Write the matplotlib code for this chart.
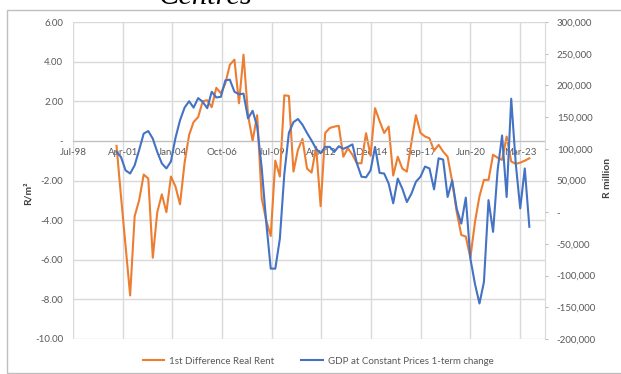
import numpy as np
import matplotlib
matplotlib.use("Agg")
import matplotlib.pyplot as plt
import matplotlib.dates as mdates
from matplotlib.patches import Rectangle

plt.rcParams['font.family'] = ['Lato', 'DejaVu Sans']

# quarterly observations, Dec-2000 .. Sep-2023
first_quarter = '2000-12'
n_quarters = 92

# 1st difference of real rent (R/m2), left axis
real_rent_diff = [
    -0.25, -2.8, -5.3, -7.8, -3.8, -3.0, -1.7, -1.9, -5.9, -3.6,
    -2.7, -3.6, -1.8, -2.3, -3.2, -1.1, 0.3, 0.95, 1.2, 2.0,
    2.05, 1.7, 2.68, 2.4, 2.9, 3.84, 4.1, 1.9, 4.35, 1.3,
    0.0, 1.3, -2.9, -4.0, -4.8, -1.0, -1.8, 2.3, 2.27, -1.55,
    -0.45, 0.1, -1.4, -1.6, -0.3, -3.3, 0.4, 0.65, 0.72, 0.76,
    -0.8, -0.37, -0.7, -1.13, -1.13, 0.39, -0.75, 1.65, 1.0, 0.4,
    0.72, -1.75, -0.8, -1.4, -1.55, -0.1, 1.3, 0.4, 0.22, 0.13,
    -0.5, -0.2, -0.54, -0.8, -2.05, -3.6, -4.75, -4.83, -5.9, -4.1,
    -2.8, -1.97, -1.97, -0.7, -0.85, -0.96, 0.22, -1.04, -1.16, -1.1,
    -1.0, -0.88,
]

# GDP at constant prices, 1-term change ('000 R million), right axis
gdp_change_k = [
    95, 87, 66, 61, 74, 98, 124, 128, 116, 95,
    77, 69, 80, 117, 145, 165, 175, 165, 180, 174,
    164, 190, 181, 182, 208, 209, 190, 186, 187, 148,
    160, 135, 70, -15, -89, -89, -42, 60, 125, 142,
    147, 138, 125, 113, 100, 93, 103, 103, 95, 104,
    100, 103, 107, 77, 56, 55, 66, 103, 62, 61,
    45, 14, 53, 37, 16, 29, 48, 56, 72, 69,
    36, 85, 83, 24, 50, 5, -18, 23, -73, -113,
    -144, -110, 19, -31, 66, 121, 24, 179, 77, 6,
    69, -23,
]

# axis settings (Excel date axis, major unit 1000 days)
x_start = np.datetime64('1998-07-24')
x_major_days = 1000
x_span_days = 9500
left_ticks = np.arange(-10, 7, 2)
right_ticks = np.arange(-200000, 300001, 50000)

orange = '#ED7D31'
blue = '#4472C4'
grid_c = '#d9d9d9'
text_c = '#595959'

months = np.datetime64(first_quarter) + np.arange(n_quarters) * np.timedelta64(3, 'M')
dates = months.astype('datetime64[D]') + 15
x = mdates.date2num(dates)
gdp = np.array(gdp_change_k) * 1000

fig = plt.figure(figsize=(6.21, 3.74), dpi=100)
ax1 = fig.add_axes([73 / 621, 1 - 339 / 374, 472 / 621, 317 / 374])
ax2 = ax1.twinx()

l1, = ax1.plot(x, real_rent_diff, color=orange, lw=1.5, label='1st Difference Real Rent')
l2, = ax2.plot(x, gdp, color=blue, lw=1.5, label='GDP at Constant Prices 1-term change')

# x axis
ticks_x = mdates.date2num(x_start + np.arange(10) * np.timedelta64(x_major_days, 'D'))
ax1.set_xlim(mdates.date2num(x_start), mdates.date2num(x_start + np.timedelta64(x_span_days, 'D')))
ax1.set_xticks(ticks_x)
ax1.xaxis.set_major_formatter(mdates.DateFormatter('%b-%y'))
ax1.tick_params(axis='x', length=0, pad=5, labelsize=7, labelcolor=text_c)

# left axis
ax1.set_ylim(-10, 6)
ax1.set_yticks(left_ticks)
ax1.yaxis.set_major_formatter(plt.FuncFormatter(lambda v, p: '-' if v == 0 else f'{v:.2f}'))
ax1.tick_params(axis='y', length=0, pad=7, labelsize=7, labelcolor=text_c)

# right axis
ax2.set_ylim(-200000, 300000)
ax2.set_yticks(right_ticks)
ax2.yaxis.set_major_formatter(plt.FuncFormatter(lambda v, p: '-' if v == 0 else f'{v:,.0f}'))
ax2.tick_params(axis='y', length=2.5, width=0.8, color='#bfbfbf', pad=6,
                labelsize=7, labelcolor=text_c)

ax1.grid(True, color=grid_c, lw=1.0)
ax1.set_axisbelow(True)
for s in ['top', 'left', 'right']:
    ax1.spines[s].set_visible(False)
ax1.spines['bottom'].set_position(('data', 0))
ax1.spines['bottom'].set_color('#bfbfbf')
for s in ['top', 'left', 'bottom']:
    ax2.spines[s].set_visible(False)
ax2.spines['right'].set_color(grid_c)

# axis titles
fig.text(28 / 621, 1 - 193 / 374, 'R/m²', rotation=90, ha='center', va='center',
         fontsize=7.5, fontweight='bold', color='#404040')
fig.text(608 / 621, 1 - 178 / 374, 'R million', rotation=90, ha='center', va='center',
         fontsize=7.5, fontweight='bold', color='#404040')

fig.legend([l1, l2], [l1.get_label(), l2.get_label()], loc='center', ncol=2,
           bbox_to_anchor=(318 / 621, 1 - 361 / 374), frameon=False, fontsize=7,
           labelcolor=text_c, handlelength=2.2, handletextpad=0.5, columnspacing=2.8)

# chart border and clipped heading from the page
fig.patches.append(Rectangle((7 / 621, 1 - 372.5 / 374), 1.2, (372.5 - 10) / 374,
                             transform=fig.transFigure, fill=False, ec='#bfbfbf', lw=1))
fig.text(158 / 621, 1 - 4 / 374, 'Centres', family='Liberation Serif', style='italic',
         fontsize=22, va='baseline', ha='left')

fig.savefig('out.png', dpi=100)
